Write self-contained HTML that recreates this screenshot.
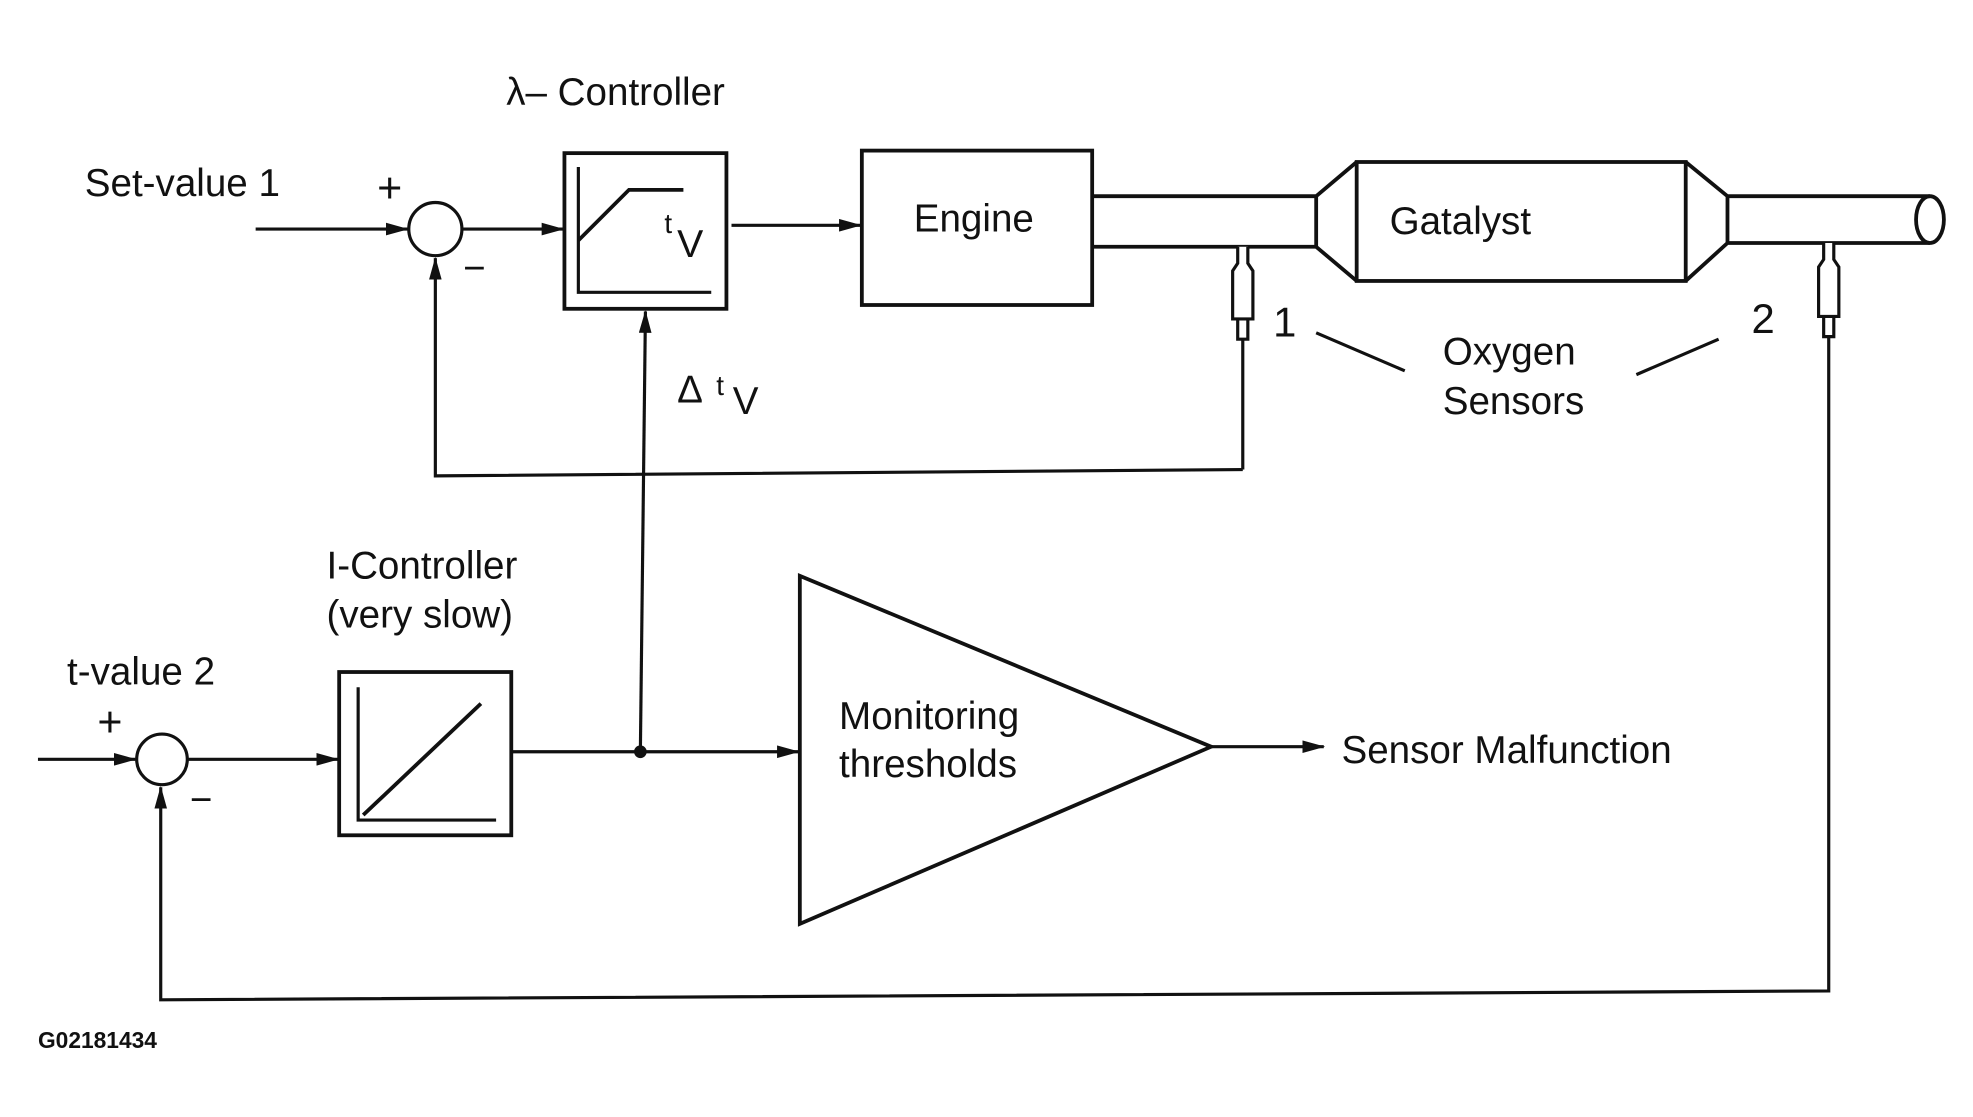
<!DOCTYPE html>
<html><head><meta charset="utf-8"><style>
html,body{margin:0;padding:0;background:#fff;}
svg{display:block;}
text{font-family:"Liberation Sans",sans-serif;fill:#111;}
</style></head><body>
<svg width="1973" height="1117" viewBox="0 0 1559 882.6" preserveAspectRatio="none" xmlns="http://www.w3.org/2000/svg">
<defs>
<marker id="a" markerWidth="18" markerHeight="10" refX="17" refY="5" orient="auto" markerUnits="userSpaceOnUse">
<path d="M0,0 L18,5 L0,10 Z" fill="#111"/></marker>
</defs>
<g stroke="#111" stroke-width="2.5" fill="none">
<line x1="202" y1="181" x2="322" y2="181" marker-end="url(#a)"/>
<circle cx="344" cy="181" r="21"/>
<line x1="365" y1="181" x2="445" y2="181" marker-end="url(#a)"/>
<rect x="446" y="121" width="128" height="123" stroke-width="3"/>
<path d="M457,132 V231 H562"/>
<path d="M457,190 L497,150 H540" stroke-width="3"/>
<line x1="578" y1="178" x2="680" y2="178" marker-end="url(#a)"/>
<rect x="681" y="119" width="182" height="122" stroke-width="3"/>
<path d="M863,155 H1040 M863,195 H1040 M1040,155 V195 M1040,155 L1072,128 M1040,195 L1072,222" stroke-width="3"/>
<rect x="1072" y="128" width="260" height="94" stroke-width="3"/>
<path d="M1332,128 L1365,155 M1332,222 L1365,192 M1365,155 V192 M1365,155 H1525 M1365,192 H1525" stroke-width="3"/>
<ellipse cx="1525" cy="173.5" rx="11" ry="18.5" stroke-width="3"/>
<path d="M978,195 V208 L974,214 V252 H990 V214 L986,208 V195" fill="#fff"/>
<path d="M978,252 V268 H986 V252"/>
<line x1="982" y1="268" x2="982" y2="371"/>
<path d="M982,371 L344,376 V204" marker-end="url(#a)"/>
<path d="M1441,192 V205 L1437,211 V250 H1453 V211 L1449,205 V192" fill="#fff"/>
<path d="M1441,250 V266 H1449 V250"/>
<path d="M1445,266 V783 L127,790 V622" marker-end="url(#a)"/>
<line x1="1040" y1="263" x2="1110" y2="293"/>
<line x1="1293" y1="296" x2="1358" y2="268"/>
<line x1="30" y1="600" x2="107" y2="600" marker-end="url(#a)"/>
<circle cx="128" cy="600" r="20"/>
<line x1="148" y1="600" x2="267" y2="600" marker-end="url(#a)"/>
<rect x="268" y="531" width="136" height="129" stroke-width="3"/>
<path d="M283,543 V648 H392"/>
<line x1="287" y1="644" x2="380" y2="556" stroke-width="3"/>
<line x1="404" y1="594" x2="631" y2="594" marker-end="url(#a)"/>
<line x1="506" y1="594" x2="510" y2="246" marker-end="url(#a)"/>
<path d="M632,455 L632,730 L957,590 Z" stroke-width="3"/>
<line x1="957" y1="590" x2="1046" y2="590" marker-end="url(#a)"/>
</g>
<circle cx="506" cy="594" r="5" fill="#111"/>
<g font-size="30.5">
<text x="400" y="83">λ– Controller</text>
<text x="67" y="155">Set-value 1</text>
<text x="298" y="160" font-size="34">+</text>
<text x="366" y="222">−</text>
<text x="525" y="184" font-size="22">t</text>
<text x="535" y="203" font-size="31">V</text>
<text x="722" y="183">Engine</text>
<text x="1098" y="185">Gatalyst</text>
<text x="1006" y="266" font-size="33">1</text>
<text x="1384" y="263" font-size="33">2</text>
<text x="1140" y="288">Oxygen</text>
<text x="1140" y="327">Sensors</text>
<text x="535" y="318">Δ</text>
<text x="566" y="312" font-size="22">t</text>
<text x="579" y="327">V</text>
<text x="258" y="457">I-Controller</text>
<text x="258" y="496">(very slow)</text>
<text x="53" y="541">t-value 2</text>
<text x="77" y="582" font-size="34">+</text>
<text x="150" y="642">−</text>
<text x="663" y="576">Monitoring</text>
<text x="663" y="614">thresholds</text>
<text x="1060" y="603">Sensor Malfunction</text>
<text x="30" y="828" font-size="18" font-weight="bold">G02181434</text>
</g>
</svg>
</body></html>
